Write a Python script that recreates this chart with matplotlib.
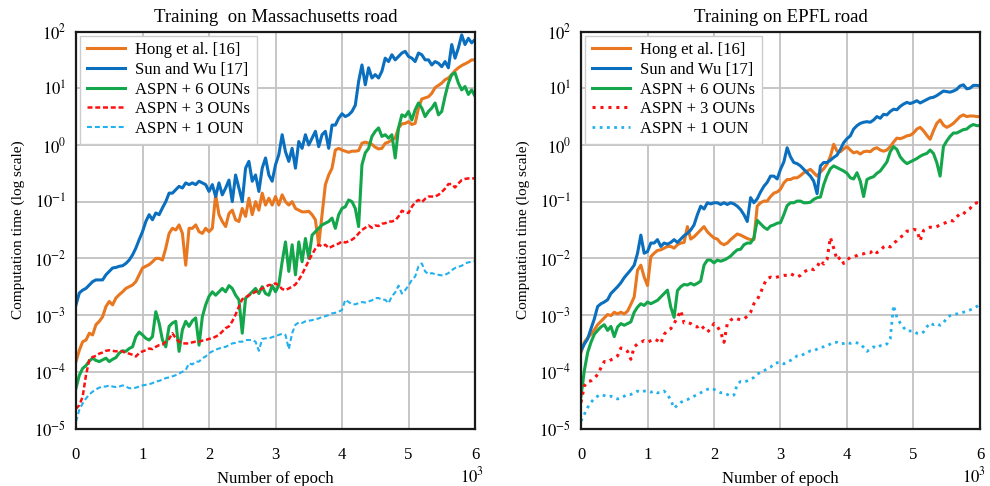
import numpy as np
import matplotlib
matplotlib.use('Agg')
import matplotlib.pyplot as plt
from matplotlib.ticker import FixedLocator, FixedFormatter, NullLocator

plt.rcParams['font.family'] = ['Liberation Serif', 'DejaVu Serif']
plt.rcParams['mathtext.fontset'] = 'stix'

# ---------------- data (log10 of computation time, every 50 epochs) ----------------
epochs = np.arange(0, 6001, 50)

mass_hong_log10 = [
    -3.82, -3.62, -3.47, -3.44, -3.32, -3.35, -3.17, -3.11, -3.03, -2.85,
    -2.76, -2.82, -2.70, -2.64, -2.59, -2.53, -2.50, -2.47, -2.41, -2.29,
    -2.17, -2.14, -2.11, -2.06, -2.00, -2.00, -2.03, -1.82, -1.56, -1.47,
    -1.50, -1.41, -1.56, -2.12, -1.47, -1.47, -1.41, -1.53, -1.56, -1.47,
    -1.53,
    -1.47, -0.88, -1.23, -1.35, -1.44, -1.21, -1.15, -1.32, -1.35, -1.12,
    -1.26, -0.94, -1.23, -1.00, -1.15, -0.85, -1.06, -0.94, -1.06, -0.91,
    -1.06, -0.88, -1.00, -1.06, -1.00, -1.12, -1.15, -1.18, -1.18, -1.17,
    -1.23, -1.32, -1.76, -1.23, -0.70, -0.53, -0.41, -0.09, -0.06, -0.09,
    -0.11, -0.13, -0.11, -0.11, -0.10, 0.03, 0.05, 0.03, 0.01, -0.04,
    -0.07, -0.06, 0.03, 0.05, 0.09, 0.12, 0.30, 0.37, 0.38, 0.41,
    0.36, 0.38, 0.65, 0.81, 0.83, 0.85, 0.91, 1.01, 1.05, 1.09,
    1.15, 1.18, 1.24, 1.31, 1.36, 1.40, 1.43, 1.46, 1.50, 1.50]

mass_sun_log10 = [
    -2.82, -2.61, -2.56, -2.53, -2.47, -2.41, -2.38, -2.38, -2.38, -2.29,
    -2.23, -2.17, -2.16, -2.14, -2.13, -2.09, -2.03, -1.94, -1.82, -1.67,
    -1.53, -1.35, -1.23, -1.32, -1.20, -1.23, -1.11, -1.00, -0.85, -0.85,
    -0.79, -0.73, -0.76, -0.67, -0.70, -0.67, -0.70, -0.64, -0.67, -0.70,
    -0.82,
    -0.70, -0.91, -0.67, -0.88, -0.76, -0.62, -1.00, -0.53, -0.76, -1.00,
    -0.41, -0.29, -0.64, -0.53, -0.82, -0.41, -0.23, -0.53, -0.64, -0.35,
    -0.17, 0.18, -0.12, -0.29, -0.06, -0.41, 0.06, -0.06, 0.18, 0.00,
    0.12, 0.24, -0.03, 0.18, 0.24, -0.06, 0.35, 0.35, 0.47, 0.55,
    0.50, 0.53, 0.59, 0.70, 1.12, 1.41, 1.06, 1.36, 1.18, 1.24,
    1.18, 1.30, 1.53, 1.47, 1.59, 1.50, 1.56, 1.62, 1.65, 1.56,
    1.53, 1.47, 1.62, 1.59, 1.50, 1.50, 1.41, 1.47, 1.44, 1.38,
    1.47, 1.36, 1.77, 1.53, 1.71, 1.94, 1.77, 1.88, 1.80, 1.86]

mass_aspn6_log10 = [
    -4.29, -4.06, -3.94, -3.89, -3.81, -3.76, -3.80, -3.82, -3.79, -3.76,
    -3.82, -3.78, -3.75, -3.67, -3.63, -3.64, -3.59, -3.56, -3.38, -3.30,
    -3.35, -3.41, -3.44, -3.38, -2.94, -3.14, -3.44, -3.56, -3.20, -3.14,
    -3.11, -3.64, -3.26, -3.11, -3.20, -3.10, -3.05, -3.53, -3.03, -2.82,
    -2.67,
    -2.59, -2.65, -2.59, -2.53, -2.59, -2.48, -2.53, -2.65, -2.73, -3.32,
    -2.70, -2.65, -2.59, -2.53, -2.62, -2.50, -2.62, -2.65, -2.48, -2.59,
    -2.47, -2.06, -1.71, -2.23, -1.76, -2.29, -1.71, -2.06, -1.65, -2.00,
    -1.59, -1.53, -1.47, -1.41, -1.38, -1.35, -1.29, -1.47, -1.23, -1.12,
    -1.09, -0.97, -1.00, -1.12, -1.44, -0.35, -0.14, -0.06, 0.15, 0.24,
    0.30, 0.15, 0.18, 0.12, 0.18, -0.23, 0.30, 0.53, 0.50, 0.59,
    0.44, 0.62, 0.74, 0.65, 0.50, 0.59, 0.65, 0.74, 0.53, 0.59,
    0.86, 1.09, 1.24, 1.27, 1.09, 0.97, 1.03, 0.89, 0.97, 0.86]

mass_aspn3_log10 = [
    -4.65, -4.59, -4.44, -4.06, -3.79, -3.74, -3.72, -3.68, -3.66, -3.63,
    -3.62, -3.63, -3.64, -3.63, -3.64, -3.67, -3.68, -3.70, -3.73, -3.67,
    -3.64, -3.62, -3.59, -3.60, -3.56, -3.53, -3.52, -3.47, -3.42, -3.32,
    -3.41, -3.47, -3.50, -3.50, -3.50, -3.48, -3.47, -3.47, -3.45, -3.44,
    -3.42,
    -3.41, -3.38, -3.35, -3.29, -3.23, -3.20, -3.11, -2.99, -2.85, -2.72,
    -2.69, -2.65, -2.62, -2.59, -2.56, -2.53, -2.50, -2.47, -2.47, -2.44,
    -2.48, -2.54, -2.56, -2.53, -2.50, -2.46, -2.38, -2.28, -2.16, -2.04,
    -1.93, -1.83, -1.76, -1.79, -1.76, -1.82, -1.79, -1.76, -1.74, -1.70,
    -1.72, -1.70, -1.67, -1.63, -1.56, -1.50, -1.46, -1.42, -1.46, -1.42,
    -1.43, -1.39, -1.38, -1.35, -1.35, -1.33, -1.26, -1.16, -1.19, -1.20,
    -1.09, -1.01, -0.97, -1.01, -0.95, -0.91, -0.91, -0.91, -0.88, -0.83,
    -0.77, -0.69, -0.69, -0.75, -0.68, -0.62, -0.60, -0.59, -0.59, -0.59]

mass_aspn1_log10 = [
    -4.88, -4.67, -4.56, -4.47, -4.40, -4.35, -4.31, -4.28, -4.26, -4.26,
    -4.24, -4.26, -4.27, -4.26, -4.24, -4.26, -4.29, -4.29, -4.28, -4.26,
    -4.24, -4.23, -4.22, -4.20, -4.17, -4.16, -4.14, -4.11, -4.10, -4.08,
    -4.06, -4.03, -4.00, -3.97, -3.85, -3.87, -3.82, -3.82, -3.76, -3.73,
    -3.67,
    -3.64, -3.61, -3.59, -3.57, -3.56, -3.53, -3.50, -3.49, -3.47, -3.47,
    -3.44, -3.44, -3.44, -3.47, -3.63, -3.42, -3.41, -3.41, -3.39, -3.37,
    -3.35, -3.33, -3.35, -3.60, -3.32, -3.17, -3.13, -3.14, -3.11, -3.10,
    -3.09, -3.07, -3.06, -3.03, -3.02, -3.00, -2.97, -2.96, -2.94, -2.91,
    -2.73, -2.77, -2.81, -2.81, -2.79, -2.77, -2.78, -2.76, -2.74, -2.70,
    -2.70, -2.73, -2.73, -2.79, -2.67, -2.60, -2.48, -2.62, -2.56, -2.48,
    -2.38, -2.32, -2.14, -2.09, -2.23, -2.28, -2.26, -2.28, -2.29, -2.30,
    -2.29, -2.26, -2.21, -2.17, -2.15, -2.13, -2.09, -2.07, -2.06, -2.05]

epfl_hong_log10 = [
    -3.66, -3.48, -3.40, -3.34, -3.26, -3.17, -3.11, -3.05, -2.99, -3.01,
    -2.95, -2.98, -2.95, -2.98, -2.93, -2.81, -2.68, -2.21, -2.12, -2.33,
    -2.48, -1.97, -1.91, -1.86, -1.85, -1.82, -1.79, -1.79, -1.82, -1.76,
    -1.73, -1.72, -1.44, -1.66, -1.62, -1.56, -1.50, -1.44, -1.53, -1.59,
    -1.64,
    -1.66, -1.73, -1.76, -1.73, -1.67, -1.62, -1.57, -1.59, -1.62, -1.65,
    -1.67, -1.67, -1.08, -1.02, -0.99, -0.99, -0.91, -0.85, -0.83, -0.78,
    -0.67, -0.61, -0.61, -0.58, -0.58, -0.54, -0.49, -0.46, -0.43, -0.49,
    -0.55, -0.48, -0.42, -0.34, -0.20, 0.01, -0.11, -0.12, -0.07, -0.03,
    -0.09, -0.14, -0.12, -0.16, -0.12, -0.11, -0.12, -0.07, -0.05, -0.09,
    -0.11, -0.09, -0.03, 0.05, 0.12, 0.11, 0.13, 0.16, 0.17, 0.21,
    0.28, 0.31, 0.25, 0.17, 0.10, 0.25, 0.38, 0.44, 0.35, 0.31,
    0.34, 0.38, 0.44, 0.50, 0.53, 0.50, 0.51, 0.51, 0.50, 0.50]

epfl_sun_log10 = [
    -3.63, -3.51, -3.42, -3.24, -3.07, -2.85, -2.80, -2.77, -2.73, -2.62,
    -2.56, -2.50, -2.43, -2.34, -2.27, -2.20, -2.12, -1.91, -1.59, -1.91,
    -1.88, -1.73, -1.73, -1.67, -1.79, -1.73, -1.75, -1.72, -1.67, -1.72,
    -1.66, -1.60, -1.56, -1.50, -1.41, -1.23, -1.08, -1.13, -1.02, -1.04,
    -1.02,
    -1.02, -1.05, -1.02, -1.05, -1.02, -1.04, -1.08, -1.14, -1.23, -1.35,
    -0.93, -1.02, -0.95, -0.83, -0.73, -0.66, -0.55, -0.55, -0.60, -0.43,
    -0.30, -0.05, -0.21, -0.31, -0.33, -0.37, -0.43, -0.49, -0.55, -0.64,
    -0.86, -0.37, -0.31, -0.31, -0.27, -0.22, -0.18, -0.08, 0.04, 0.11,
    0.16, 0.28, 0.34, 0.38, 0.40, 0.41, 0.40, 0.44, 0.50, 0.47,
    0.54, 0.53, 0.59, 0.63, 0.62, 0.68, 0.72, 0.75, 0.73, 0.75,
    0.78, 0.74, 0.77, 0.80, 0.83, 0.84, 0.87, 0.91, 0.95, 0.94,
    0.93, 0.95, 0.98, 1.04, 1.06, 0.99, 1.00, 1.05, 1.05, 1.04]

epfl_aspn6_log10 = [
    -4.43, -3.98, -3.66, -3.48, -3.34, -3.27, -3.21, -3.17, -3.27, -3.20,
    -3.38, -3.21, -3.15, -3.18, -3.15, -3.12, -2.95, -2.86, -2.80, -2.83,
    -2.77, -2.80, -2.77, -2.74, -2.68, -2.62, -2.56, -2.86, -3.04, -2.57,
    -2.50, -2.46, -2.47, -2.44, -2.47, -2.44, -2.40, -2.12, -2.03, -2.03,
    -2.08,
    -2.03, -2.05, -2.03, -2.00, -1.96, -1.90, -1.85, -1.84, -1.76, -1.73,
    -1.73, -1.64, -1.33, -1.39, -1.45, -1.49, -1.43, -1.41, -1.38, -1.37,
    -1.23, -1.07, -1.02, -1.02, -0.99, -0.99, -1.02, -1.02, -1.01, -0.96,
    -0.93, -0.92, -0.70, -0.54, -0.42, -0.37, -0.40, -0.43, -0.46, -0.50,
    -0.58, -0.60, -0.49, -0.64, -0.91, -0.61, -0.58, -0.56, -0.50, -0.46,
    -0.38, -0.30, -0.12, -0.03, -0.08, -0.21, -0.28, -0.33, -0.30, -0.27,
    -0.24, -0.20, -0.17, -0.15, -0.09, -0.15, -0.31, -0.55, -0.03, 0.07,
    0.15, 0.21, 0.21, 0.24, 0.27, 0.28, 0.33, 0.36, 0.34, 0.34]

epfl_aspn3_log10 = [
    -4.54, -4.25, -4.17, -4.16, -4.11, -4.05, -3.93, -3.82, -3.83, -3.79,
    -3.76, -3.72, -3.58, -3.60, -3.64, -3.78, -3.56, -3.51, -3.48, -3.45,
    -3.48, -3.45, -3.42, -3.45, -3.50, -3.34, -3.27, -3.24, -3.15, -3.04,
    -2.92, -3.14, -3.13, -3.15, -3.20, -3.21, -3.17, -3.24, -3.30, -3.24,
    -3.15,
    -3.20, -3.30, -3.48, -3.15, -3.09, -3.05, -3.07, -3.08, -3.07, -3.02,
    -2.95, -2.80, -2.73, -2.61, -2.46, -2.36, -2.33, -2.35, -2.33, -2.31,
    -2.30, -2.30, -2.27, -2.30, -2.33, -2.30, -2.24, -2.21, -2.18, -2.20,
    -2.15, -2.04, -2.10, -2.02, -1.63, -1.82, -2.03, -1.98, -2.09, -2.03,
    -1.98, -1.97, -1.95, -1.92, -1.92, -1.89, -1.90, -1.85, -1.90, -1.86,
    -1.80, -1.77, -1.80, -1.73, -1.69, -1.63, -1.59, -1.52, -1.52, -1.49,
    -1.50, -1.69, -1.51, -1.47, -1.45, -1.46, -1.44, -1.41, -1.39, -1.36,
    -1.33, -1.34, -1.27, -1.21, -1.22, -1.15, -1.12, -1.05, -1.02, -1.01]

epfl_aspn1_log10 = [
    -4.87, -4.75, -4.63, -4.54, -4.47, -4.43, -4.40, -4.42, -4.44, -4.43,
    -4.46, -4.48, -4.46, -4.43, -4.40, -4.40, -4.37, -4.34, -4.36, -4.34,
    -4.34, -4.36, -4.34, -4.37, -4.37, -4.34, -4.40, -4.50, -4.64, -4.59,
    -4.54, -4.51, -4.49, -4.46, -4.43, -4.40, -4.37, -4.34, -4.31, -4.29,
    -4.31,
    -4.34, -4.37, -4.37, -4.40, -4.43, -4.41, -4.22, -4.17, -4.18, -4.16,
    -4.13, -4.10, -4.04, -4.01, -3.98, -3.95, -3.92, -3.86, -3.84, -3.83,
    -3.86, -3.83, -3.80, -3.76, -3.72, -3.72, -3.69, -3.66, -3.63, -3.63,
    -3.60, -3.57, -3.56, -3.54, -3.51, -3.48, -3.48, -3.51, -3.50, -3.48,
    -3.50, -3.48, -3.49, -3.51, -3.57, -3.64, -3.60, -3.56, -3.58, -3.54,
    -3.54, -3.51, -3.42, -2.83, -3.04, -3.14, -3.22, -3.28, -3.28, -3.28,
    -3.32, -3.33, -3.30, -3.21, -3.14, -3.17, -3.15, -3.18, -3.14, -3.05,
    -3.01, -2.99, -2.98, -2.96, -2.95, -2.93, -2.91, -2.88, -2.85, -2.81]

series_labels = ['Hong et al. [16]', 'Sun and Wu [17]', 'ASPN + 6 OUNs',
                 'ASPN + 3 OUNs', 'ASPN + 1 OUN']
panel_titles = ['Training  on Massachusetts road', 'Training on EPFL road']
x_tick_values = [0, 1000, 2000, 3000, 4000, 5000, 6000]
x_tick_labels = ['0', '1', '2', '3', '4', '5', '6']
y_tick_values = [1e-5, 1e-4, 1e-3, 1e-2, 1e-1, 1e0, 1e1, 1e2]
y_tick_labels = [r'$10^{-5}$', r'$10^{-4}$', r'$10^{-3}$', r'$10^{-2}$',
                 r'$10^{-1}$', r'$10^{0}$', r'$10^{1}$', r'$10^{2}$']

panels = [
    [mass_hong_log10, mass_sun_log10, mass_aspn6_log10, mass_aspn3_log10, mass_aspn1_log10],
    [epfl_hong_log10, epfl_sun_log10, epfl_aspn6_log10, epfl_aspn3_log10, epfl_aspn1_log10],
]

# ---------------- styling ----------------
colors = ['#e8771f', '#0a6fbe', '#13a64a', '#ff1010', '#22b1ee']
widths_left = [2.2, 2.2, 2.2, 1.8, 1.5]
styles_left = ['-', '-', '-', (0, (2.0, 1.1)), (0, (2.4, 1.4))]
styles_right = ['-', '-', '-', (0, (1, 1.6)), (0, (1, 1.6))]
widths_right = [2.2, 2.2, 2.2, 2.2, 2.0]
offset_x = [1.022, 1.015]

fig = plt.figure(figsize=(9.9, 4.86), dpi=100)
W, H = 990.0, 486.0
ax_bottom = 1 - 428.5 / H
ax_height = (428.5 - 31.5) / H
axes = [fig.add_axes([76 / W, ax_bottom, 399 / W, ax_height]),
        fig.add_axes([581 / W, ax_bottom, 399 / W, ax_height])]

for k, ax in enumerate(axes):
    sty = styles_left if k == 0 else styles_right
    lws = widths_left if k == 0 else widths_right
    for i, vals in enumerate(panels[k]):
        ax.plot(epochs, 10.0 ** np.asarray(vals), color=colors[i], lw=lws[i],
                ls=sty[i], label=series_labels[i],
                dash_capstyle='butt', solid_joinstyle='round')
    ax.set_yscale('log')
    ax.set_xlim(0, 6000)
    ax.set_ylim(1e-5, 1e2)
    ax.xaxis.set_major_locator(FixedLocator(x_tick_values))
    ax.xaxis.set_major_formatter(FixedFormatter(x_tick_labels))
    ax.yaxis.set_major_locator(FixedLocator(y_tick_values))
    ax.yaxis.set_major_formatter(FixedFormatter(y_tick_labels))
    ax.yaxis.set_minor_locator(NullLocator())
    ax.grid(True, which='major', color='#c2c2c2', lw=1.3)
    ax.set_axisbelow(True)
    ax.tick_params(axis='both', length=0, labelsize=12)
    ax.tick_params(axis='x', pad=13)
    ax.tick_params(axis='y', pad=7)
    for sp in ax.spines.values():
        sp.set_linewidth(1.6)
        sp.set_color('#1a1a1a')
    ax.set_title(panel_titles[k], fontsize=13.5, pad=7)
    ax.set_xlabel('Number of epoch', fontsize=12)
    ax.xaxis.set_label_coords(0.5, -0.108)
    ax.set_ylabel('Computation time (log scale)', fontsize=11)
    ax.yaxis.set_label_coords(-0.128, 0.5)
    ax.text(offset_x[k], -0.095, r'$10^{3}$', transform=ax.transAxes,
            ha='right', va='top', fontsize=12)
    leg = ax.legend(loc='upper left', fontsize=12, frameon=True, fancybox=False,
                    edgecolor='#cccccc', framealpha=1.0, borderaxespad=0.25,
                    handlelength=2.3, handletextpad=0.6, labelspacing=0.22,
                    borderpad=0.4)
    leg.get_frame().set_linewidth(1.0)

fig.savefig('out.png', dpi=100)
